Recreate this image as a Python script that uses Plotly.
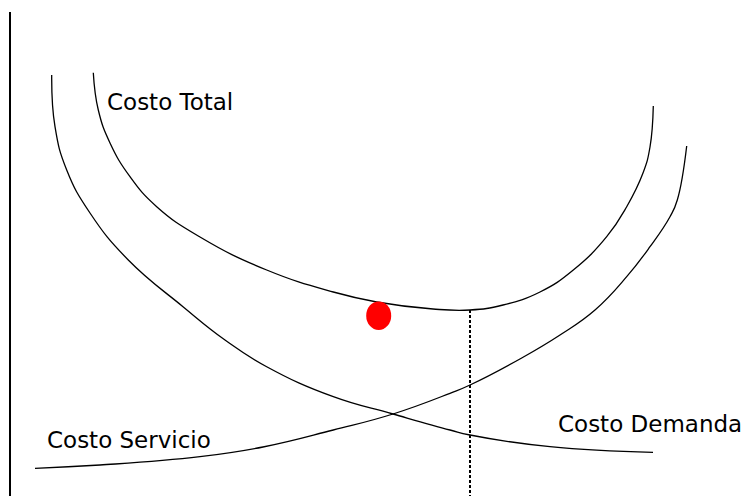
import plotly.graph_objects as go

W, H = 744, 496

# Values (x: quantity scale 0-744, pixel-y values converted to cost, up)
total_x = [93.3, 98.3, 110, 130, 156.7, 200, 266.7, 333.3, 376.7, 433, 470,
           503, 540, 573.3, 606.7, 626.7, 643, 650, 653.3]
total_px = [72.7, 110, 143, 176.7, 206.7, 237, 270, 292, 302, 309, 310,
            305, 292, 270, 236.7, 206.7, 173, 147, 106]

demanda_x = [51.7, 55, 66.7, 90, 128.3, 183, 225, 266.7, 333.3, 393, 450, 470, 550, 653]
demanda_px = [75, 126.7, 170, 213, 260, 306.7, 340, 366.7, 396.7, 414, 430, 435, 446.7, 452.3]

servicio_x = [35, 100, 200, 263, 333.3, 393, 450, 470, 521.7, 560, 595, 626.7, 650, 670, 677.3, 686.7]
servicio_px = [468.3, 465, 456.7, 447, 430, 414, 393.3, 385, 358, 335, 310, 276.7, 246.7, 216.7, 200, 146]

to_cost = lambda v: [H - p for p in v]
total_y = to_cost(total_px)
demanda_y = to_cost(demanda_px)
servicio_y = to_cost(servicio_px)

# optimum point (minimum of total cost) and marked point
opt_x, opt_y = 470, H - 310
dot_x, dot_y = 378.7, H - 315.7

labels = ["Costo Total", "Costo Demanda", "Costo Servicio"]
label_x = [105, 556, 45]
label_y = [H - 102, H - 424, H - 440]

line_style = dict(color="black", width=1.3, shape="spline", smoothing=1.3)

fig = go.Figure()
fig.add_trace(go.Scatter(x=total_x, y=total_y, mode="lines", line=line_style,
                         hoverinfo="skip"))
fig.add_trace(go.Scatter(x=demanda_x, y=demanda_y, mode="lines", line=line_style,
                         hoverinfo="skip"))
fig.add_trace(go.Scatter(x=servicio_x, y=servicio_y, mode="lines", line=line_style,
                         hoverinfo="skip"))
# dashed line from the minimum down to the axis
fig.add_trace(go.Scatter(x=[opt_x, opt_x], y=[opt_y, 0], mode="lines",
                         line=dict(color="black", width=2, dash="3px,2px"),
                         hoverinfo="skip"))

# vertical left axis
fig.add_shape(type="line", x0=10, x1=10, y0=0, y1=H - 12,
              line=dict(color="black", width=2))
# red point (ellipse)
fig.add_shape(type="circle", xref="x", yref="y",
              xsizemode="pixel", ysizemode="pixel",
              xanchor=dot_x, yanchor=dot_y,
              x0=-12.5, x1=12.5, y0=-14.3, y1=14.3,
              fillcolor="#ff0000", line=dict(width=0))

for t, lx, ly in zip(labels, label_x, label_y):
    fig.add_annotation(x=lx, y=ly, text=t, showarrow=False,
                       xanchor="left", yanchor="middle",
                       font=dict(family="DejaVu Sans", size=23, color="black"))

fig.update_layout(
    width=W, height=H,
    margin=dict(l=0, r=0, t=0, b=0),
    paper_bgcolor="white", plot_bgcolor="white",
    showlegend=False,
    xaxis=dict(range=[0, W], visible=False, fixedrange=True),
    yaxis=dict(range=[0, H], visible=False, fixedrange=True),
)

fig.write_html("out.html",
               config={"displayModeBar": False, "staticPlot": True},
               post_script="document.body.style.margin='0px';document.body.style.overflow='hidden';")
